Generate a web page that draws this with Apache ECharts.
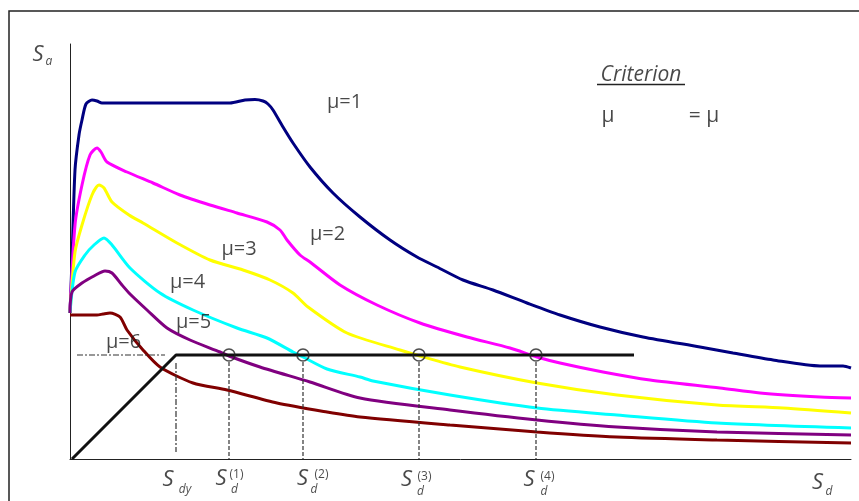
<!DOCTYPE html>
<html>
<head>
<meta charset="utf-8">
<script src="https://cdn.jsdelivr.net/npm/echarts@6/dist/echarts.min.js"></script>
<style>
  html, body { margin: 0; padding: 0; background: #fff; }
  #main { width: 859px; height: 501px; }
</style>
</head>
<body>
<div id="main"></div>
<script>
// spectra, [Sd, Sa] in arbitrary units
const mu1 = [[0,14.6],[0.2,19.9],[0.5,28.9],[0.9,32.4],[1.2,33.9],[1.6,35.5],[2.2,35.9],[2.7,35.8],[3.2,35.6],
  [16.0,35.6],[17.5,35.9],[18.5,35.95],[19.3,35.8],[19.8,35.5],[20.3,34.9],[21.3,33.2],[22.3,31.6],[24.0,29.2],
  [26.3,26.6],[29.0,24.2],[32.0,21.9],[34.7,20.2],[36.7,19.2],[39.3,17.9],[42.3,16.9],[45.7,15.6],[49.0,14.4],
  [53.0,13.2],[57.3,12.2],[63.0,11.2],[66.3,10.6],[70.3,9.9],[75.0,9.3],[77.3,9.3],[78.1,9.1]];
const mu2 = [[0,14.6],[0.5,23.4],[1.2,27.4],[2.0,30.4],[2.7,31.1],[3.1,30.7],[3.7,29.7],[5.7,28.7],[8.3,27.6],
  [11.0,26.4],[14.0,25.4],[16.7,24.6],[19.7,23.7],[21.0,22.9],[21.7,21.9],[23.0,20.4],[24.0,19.7],[27.0,17.4],
  [30.7,15.4],[35.0,13.6],[39.7,12.2],[44.0,11.1],[46.7,10.2],[49.0,9.6],[53.3,8.7],[58.0,7.9],[65.0,7.1],
  [69.0,6.6],[75.0,6.2],[78.1,6.1]];
const mu3 = [[0,14.6],[0.5,20.7],[1.2,23.4],[2.2,26.4],[2.9,27.4],[3.4,27.1],[4.2,25.7],[5.9,24.4],[7.3,23.6],
  [10.7,21.6],[14.0,19.9],[17.3,18.9],[20.0,17.9],[22.3,16.6],[23.8,15.2],[27.7,12.6],[33.0,10.9],[35.0,10.3],
  [39.0,9.2],[46.7,7.6],[54.7,6.4],[64.7,5.4],[71.3,5.1],[78.1,4.6]];
const mu4 = [[0,14.6],[0.5,18.7],[1.5,20.4],[2.4,21.4],[3.4,22.1],[4.2,21.4],[6.0,19.1],[9.0,16.6],[12.3,14.9],
  [16.7,13.1],[19.7,12.1],[22.3,10.7],[23.3,10.2],[25.7,9.0],[29.0,8.2],[30.3,7.8],[38.0,6.4],[46.7,5.1],
  [54.7,4.4],[64.7,3.6],[78.1,3.1]];
const mu5 = [[0,14.6],[0.2,16.7],[1.2,17.6],[2.4,18.3],[3.5,18.8],[4.2,18.6],[5.2,17.4],[6.0,16.5],[7.7,14.9],
  [9.7,13.1],[12.0,11.9],[15.0,10.7],[15.9,10.3],[19.0,9.2],[24.0,7.7],[29.0,6.1],[38.0,4.9],[46.7,3.9],
  [54.7,3.2],[64.7,2.7],[78.1,2.4]];
const mu6 = [[0,14.4],[2.7,14.4],[3.3,14.5],[4.0,14.6],[5.0,14.2],[5.7,12.9],[7.3,10.9],[9.0,9.2],[12.3,7.6],
  [15.7,6.9],[20.7,5.6],[25.7,4.7],[29.0,4.2],[38.0,3.4],[46.7,2.7],[54.7,2.2],[64.7,1.9],[78.1,1.6]];

const curveColors = ['#000080', '#ff00ff', '#ffff00', '#00ffff', '#800080', '#800000'];

// bilinear capacity curve and the performance points on it
const capacity = [[0.2,0],[10.6,10.4],[56.4,10.4]];
const yieldPoint = [10.6, 10.4];
const crossX = [15.9, 23.3, 34.9, 46.6];

// text
const muLabels = [['μ=1',27.45,35.7],['μ=2',25.75,22.45],['μ=3',16.9,20.95],['μ=4',11.75,17.7],['μ=5',12.35,13.65],['μ=6',5.35,11.65]];
const bigS = [['S',-3.2,40.45],['S',9.8,-2.05],['S',15.1,-2.0],['S',23.25,-2.0],['S',33.65,-2.1],['S',45.9,-2.1],['S',74.75,-2.35]];
const subs = [['a',-2.1,39.75],['dy',11.5,-3.1],['d',16.45,-3.1],['d',24.4,-3.1],['d',35.05,-3.25],['d',47.4,-3.25],['d',75.9,-3.25]];
const sups = [['(1)',16.65,-1.6],['(2)',25.15,-1.6],['(3)',35.45,-1.8],['(4)',47.75,-1.8]];
const criterion = [['Criterion',57.1,38.4]];
const criterionLine = [[52.7,37.45],[61.5,37.45]];
const muCriterion = [['μ',53.8,34.3],['= μ',63.4,34.3]];

const chart = echarts.init(document.getElementById('main'));
const FONT = '"Open Sans", "DejaVu Sans", sans-serif';
const TXT = '#1a1a1a';

function textSeries(items, style) {
  return {
    type: 'scatter',
    data: items.map(a => ({ value: [a[1], a[2]], label: { formatter: a[0] } })),
    symbolSize: 0,
    clip: false,
    silent: true,
    z: 10,
    label: Object.assign({
      show: true, position: [0, 0], align: 'center', verticalAlign: 'middle',
      color: TXT, fontFamily: FONT
    }, style)
  };
}

function segment(data, style, z) {
  return {
    type: 'line', data: data, symbol: 'none', silent: true, clip: false, z: z || 5,
    lineStyle: style
  };
}

const series = [];
[mu1, mu2, mu3, mu4, mu5, mu6].forEach((d, i) => {
  series.push({
    type: 'line', data: d, symbol: 'none', smooth: 0.25, silent: true, z: 2,
    lineStyle: { color: curveColors[i], width: 3 }
  });
});

series.push(segment(capacity, { color: '#111', width: 3 }, 4));
// dash-dot guides at yield
series.push(segment([[0.7, yieldPoint[1]], [9.5, yieldPoint[1]]], { color: '#333', width: 1.2, type: [6, 2, 2, 2] }));
series.push(segment([[yieldPoint[0], 9.6], [yieldPoint[0], 0.7]], { color: '#333', width: 1.2, type: [6, 2, 2, 2] }));
crossX.forEach(x => {
  series.push(segment([[x, yieldPoint[1] - 0.7], [x, 0]], { color: '#333', width: 1.2, type: [4, 2] }));
});
series.push({
  type: 'scatter', data: crossX.map(x => [x, yieldPoint[1]]), symbol: 'circle', symbolSize: 12,
  silent: true, z: 6,
  itemStyle: { color: 'rgba(0,0,0,0)', borderColor: '#222', borderWidth: 1.6 }
});
series.push(segment(criterionLine, { color: '#222', width: 1.5 }, 6));

series.push(textSeries(muLabels, { fontSize: 20 }));
series.push(textSeries(bigS, { fontSize: 22, fontStyle: 'italic' }));
series.push(textSeries(subs, { fontSize: 12, fontStyle: 'italic' }));
series.push(textSeries(sups, { fontSize: 12 }));
series.push(textSeries(criterion, { fontSize: 21, fontStyle: 'italic' }));
series.push(textSeries(muCriterion, { fontSize: 21 }));

chart.setOption({
  animation: false,
  backgroundColor: '#fff',
  grid: { left: 70, right: 8, top: 44, bottom: 42 },
  xAxis: {
    type: 'value', min: 0, max: 78.1,
    axisLine: { show: true, lineStyle: { color: '#222', width: 1 } },
    axisTick: { show: false }, axisLabel: { show: false }, splitLine: { show: false }
  },
  yAxis: {
    type: 'value', min: 0, max: 41.5,
    axisLine: { show: true, lineStyle: { color: '#222', width: 1 } },
    axisTick: { show: false }, axisLabel: { show: false }, splitLine: { show: false }
  },
  graphic: [{
    type: 'rect', silent: true,
    shape: { x: 9, y: 11, width: 1000, height: 1000 },
    style: { fill: 'none', stroke: '#222', lineWidth: 1.5 }
  }],
  series: series
});
</script>
</body>
</html>
